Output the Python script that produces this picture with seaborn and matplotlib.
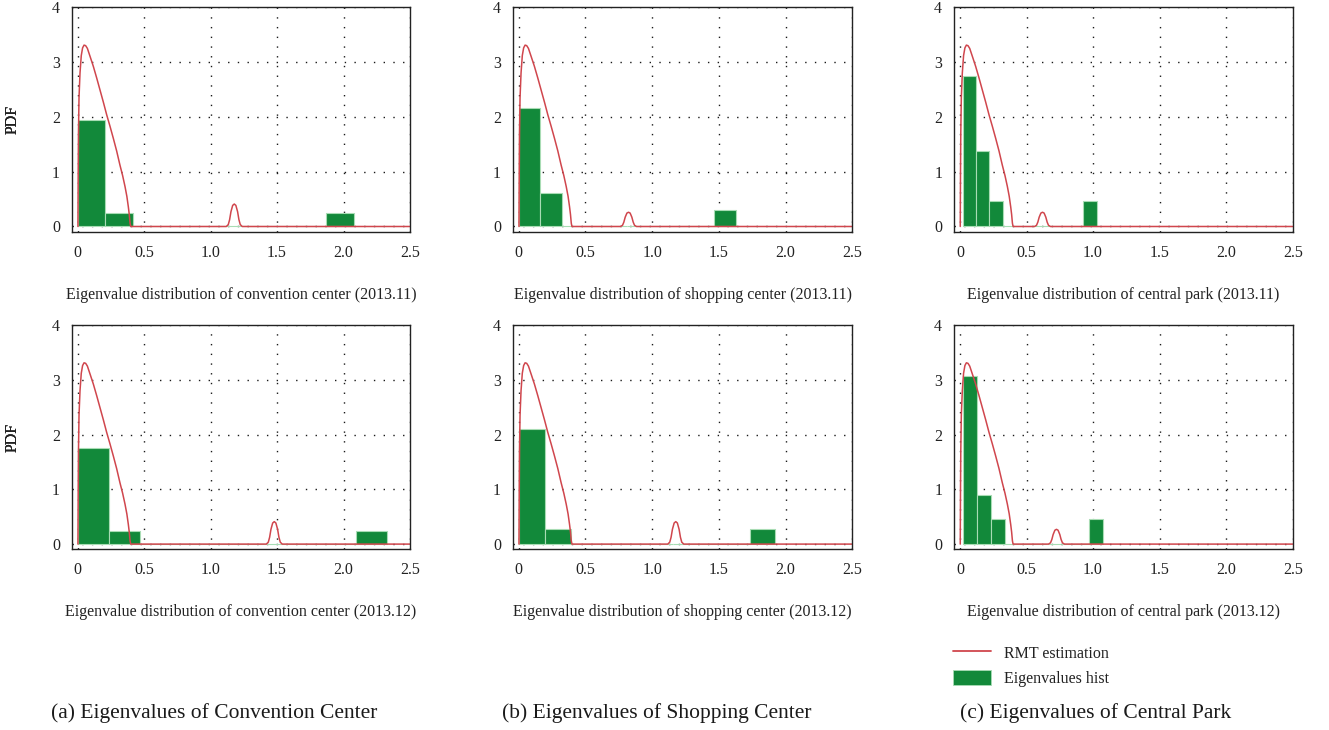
import numpy as np
import matplotlib
matplotlib.use("Agg")
import matplotlib.pyplot as plt
from matplotlib.lines import Line2D
from matplotlib.patches import Patch
import seaborn as sns

# ---------------- data ----------------
x_ticks = [0, 0.5, 1.0, 1.5, 2.0, 2.5]
x_tick_labels = ["0", "0.5", "1.0", "1.5", "2.0", "2.5"]
y_ticks = [0, 1, 2, 3, 4]
y_tick_labels = ["0", "1", "2", "3", "4"]

panel_xlabels = [
    "Eigenvalue distribution of convention center (2013.11)",
    "Eigenvalue distribution of shopping center (2013.11)",
    "Eigenvalue distribution of central park (2013.11)",
    "Eigenvalue distribution of convention center (2013.12)",
    "Eigenvalue distribution of shopping center (2013.12)",
    "Eigenvalue distribution of central park (2013.12)",
]
captions = [
    "(a) Eigenvalues of Convention Center",
    "(b) Eigenvalues of Shopping Center",
    "(c) Eigenvalues of Central Park",
]
legend_labels = ["RMT estimation", "Eigenvalues hist"]

# histogram: 10 bins between lo and hi, bar heights
hist_lo = [0.0, 0.0, 0.02, 0.0, 0.005, 0.023]
hist_hi = [2.079, 1.63, 1.026, 2.33, 1.922, 1.076]
hist_heights = [
    [1.94, 0.25, 0, 0, 0, 0, 0, 0, 0, 0.25],
    [2.17, 0.62, 0, 0, 0, 0, 0, 0, 0, 0.31],
    [2.75, 1.38, 0.47, 0, 0, 0, 0, 0, 0, 0.47],
    [1.75, 0.24, 0, 0, 0, 0, 0, 0, 0, 0.24],
    [2.11, 0.28, 0, 0, 0, 0, 0, 0, 0, 0.28],
    [3.07, 0.89, 0.46, 0, 0, 0, 0, 0, 0, 0.46],
]

# RMT estimation: main bulk (same in all panels)
rmt_bulk_x = [0.002, 0.004, 0.006, 0.010, 0.0175, 0.027, 0.037, 0.048, 0.060,
              0.073, 0.095, 0.118, 0.143, 0.168, 0.193, 0.218, 0.243, 0.268,
              0.293, 0.318, 0.338, 0.356, 0.370, 0.381, 0.388, 0.394, 0.399]
rmt_bulk_y = [0.00, 1.00, 1.70, 2.35, 2.80, 3.12, 3.26, 3.31, 3.30,
              3.25, 3.09, 2.92, 2.71, 2.49, 2.27, 2.04, 1.83, 1.61,
              1.38, 1.12, 0.93, 0.73, 0.55, 0.36, 0.22, 0.06, 0.00]
# RMT estimation: small spike per panel
rmt_spike_x = [
    [1.118, 1.133, 1.143, 1.153, 1.166, 1.178, 1.190, 1.203, 1.213, 1.223, 1.238],
    [0.763, 0.778, 0.788, 0.798, 0.811, 0.823, 0.835, 0.848, 0.858, 0.868, 0.883],
    [0.560, 0.575, 0.585, 0.595, 0.608, 0.620, 0.632, 0.645, 0.655, 0.665, 0.680],
    [1.419, 1.434, 1.444, 1.454, 1.467, 1.479, 1.491, 1.504, 1.514, 1.524, 1.539],
    [1.117, 1.132, 1.142, 1.152, 1.165, 1.177, 1.189, 1.202, 1.212, 1.222, 1.237],
    [0.665, 0.680, 0.690, 0.700, 0.713, 0.725, 0.737, 0.750, 0.760, 0.770, 0.785],
]
rmt_spike_y = [
    [0, 0.035, 0.125, 0.27, 0.385, 0.41, 0.385, 0.27, 0.125, 0.035, 0],
    [0, 0.022, 0.08, 0.17, 0.245, 0.26, 0.245, 0.17, 0.08, 0.022, 0],
    [0, 0.022, 0.08, 0.17, 0.245, 0.26, 0.245, 0.17, 0.08, 0.022, 0],
    [0, 0.035, 0.125, 0.27, 0.385, 0.41, 0.385, 0.27, 0.125, 0.035, 0],
    [0, 0.035, 0.125, 0.27, 0.385, 0.41, 0.385, 0.27, 0.125, 0.035, 0],
    [0, 0.023, 0.083, 0.175, 0.253, 0.27, 0.253, 0.175, 0.083, 0.023, 0],
]
rmt_end = [2.5, 0.0]

# ---------------- style ----------------
sns.set_style("white")
plt.rcParams["font.family"] = ["Liberation Serif", "DejaVu Serif"]
GREEN = "#12893a"
EDGE = "#a8dcb4"
RED = "#d0464d"
GRID = "#1a1a1a"

W, H = 1329, 730
fig = plt.figure(figsize=(W / 100, H / 100), dpi=100)

col_left = [71.7, 512.7, 954.0]
col_right = [410.0, 852.3, 1292.7]
row_top = [7.3, 325.0]
row_bot = [231.7, 549.3]
row_xlabel_top = [287.0, 604.0]

for i in range(6):
    r, c = divmod(i, 3)
    l, rr = col_left[c], col_right[c]
    t, b = row_top[r], row_bot[r]
    ax = fig.add_axes([l / W, 1 - b / H, (rr - l) / W, (b - t) / H])

    centers = np.linspace(hist_lo[i], hist_hi[i], 11)
    centers = (centers[:-1] + centers[1:]) / 2
    sns.histplot(x=centers, weights=hist_heights[i], bins=10,
                 binrange=(hist_lo[i], hist_hi[i]), stat="count",
                 color=GREEN, alpha=1, edgecolor=EDGE, linewidth=0.8, ax=ax)

    cx = rmt_bulk_x + rmt_spike_x[i] + [rmt_end[0]]
    cy = rmt_bulk_y + rmt_spike_y[i] + [rmt_end[1]]
    sns.lineplot(x=cx, y=cy, color=RED, linewidth=1.1, ax=ax, sort=False,
                 estimator=None)

    ax.set_xlim(-0.045, 2.5)
    ax.set_ylim(-0.095, 4.0)
    ax.set_xticks(x_ticks)
    ax.set_xticklabels(x_tick_labels)
    ax.set_yticks(y_ticks)
    ax.set_yticklabels(y_tick_labels)
    ax.tick_params(axis="both", direction="out", length=3.5, width=0.9,
                   color="#222222", labelsize=11.5, labelcolor="#222222")
    ax.tick_params(axis="x", pad=6)
    ax.tick_params(axis="y", pad=5)
    ax.set_axisbelow(True)
    ax.grid(True, color=GRID, linestyle=(0, (1, 6)), linewidth=1.0)
    for s in ax.spines.values():
        s.set_visible(True)
        s.set_color("#222222")
        s.set_linewidth(1.0)

    ax.set_ylabel("PDF", fontsize=11.5, color="#222222")
    ax.yaxis.set_label_coords(-(l - 21) / (rr - l), 0.5)
    ax.set_xlabel(panel_xlabels[i], fontsize=11.5, color="#222222")
    ax.xaxis.set_label_coords(0.5, -(row_xlabel_top[r] - b) / (b - t))

cap_x = [214, 657, 1096]
for c in range(3):
    fig.text(cap_x[c] / W, 1 - 713 / H, captions[c], ha="center", va="center",
             fontsize=15.5, color="#1a1a1a")

handles = [Line2D([], [], color=RED, linewidth=1.3),
           Patch(facecolor=GREEN, edgecolor=EDGE, linewidth=0.6)]
fig.legend(handles, legend_labels, loc="upper left",
           bbox_to_anchor=(953 / W, 1 - 645 / H), frameon=False,
           fontsize=11.5, handlelength=2.35, handleheight=1.0,
           handletextpad=0.85, labelspacing=0.55, borderpad=0,
           borderaxespad=0, labelcolor="#222222")

fig.savefig("out.png", dpi=100)
